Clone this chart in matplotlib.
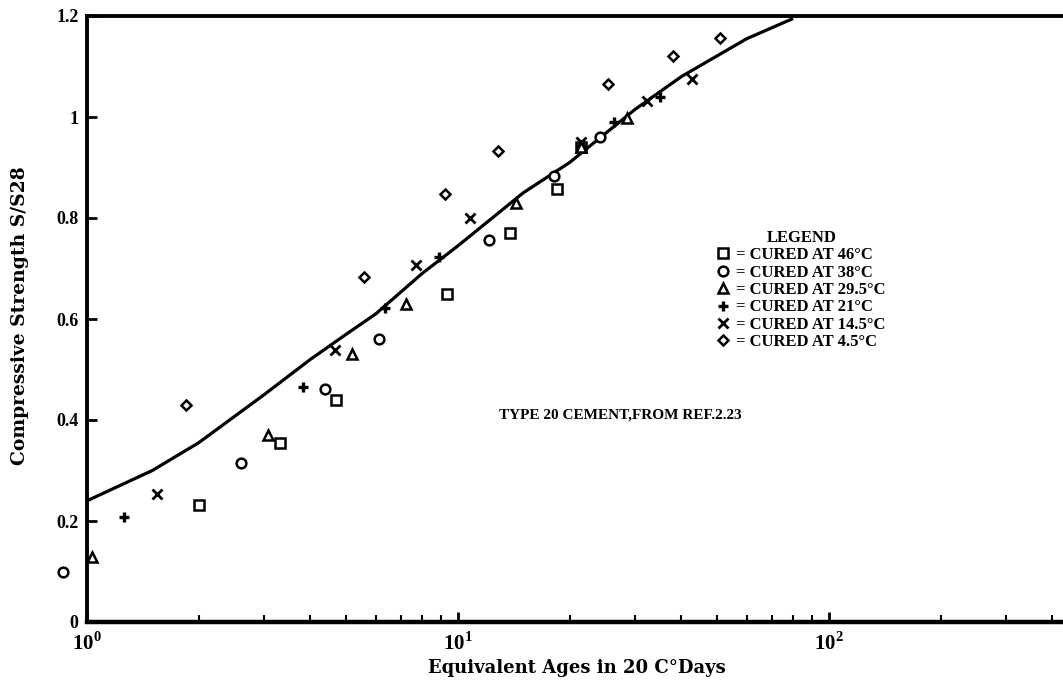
import math
import matplotlib
matplotlib.use("Agg")
import matplotlib.pyplot as plt
from matplotlib.ticker import LogLocator, FixedLocator, FuncFormatter, NullFormatter

plt.rcParams["font.family"] = ["Liberation Serif", "DejaVu Serif"]
plt.rcParams["mathtext.fontset"] = "custom"
plt.rcParams["mathtext.rm"] = "Liberation Serif:bold"
plt.rcParams["mathtext.bf"] = "Liberation Serif:bold"

# best-fit curve
curve_x = [1, 1.5, 2, 3, 4, 5, 6, 8, 10, 15, 20, 30, 40, 60, 80]
curve_y = [0.24, 0.30, 0.355, 0.45, 0.52, 0.57, 0.61, 0.69, 0.745, 0.85, 0.91, 1.015, 1.08, 1.155, 1.195]

# measured points per curing temperature
x_46 = [2.0, 3.31, 4.69, 9.34, 13.8, 18.5, 21.5]
y_46 = [0.232, 0.354, 0.44, 0.65, 0.77, 0.857, 0.94]
x_38 = [0.86, 2.6, 4.38, 6.13, 12.1, 18.1, 24.1]
y_38 = [0.099, 0.315, 0.461, 0.56, 0.756, 0.883, 0.96]
x_295 = [1.03, 3.07, 5.18, 7.24, 14.3, 21.5, 28.5]
y_295 = [0.129, 0.37, 0.53, 0.63, 0.83, 0.94, 0.998]
x_21 = [1.26, 3.82, 6.36, 8.89, 26.3, 35.0]
y_21 = [0.208, 0.465, 0.622, 0.723, 0.99, 1.04]
x_145 = [1.54, 4.66, 7.7, 10.8, 21.5, 32.3, 42.7]
y_145 = [0.253, 0.539, 0.707, 0.80, 0.95, 1.032, 1.075]
x_45 = [1.85, 5.58, 9.22, 12.8, 25.4, 38.0, 50.8]
y_45 = [0.43, 0.683, 0.848, 0.933, 1.065, 1.12, 1.156]

y_ticks = [0, 0.2, 0.4, 0.6, 0.8, 1, 1.2]
y_tick_labels = ["0", "0.2", "0.4", "0.6", "0.8", "1", "1.2"]

fig = plt.figure(figsize=(10.63, 6.86), dpi=100)
ax = fig.add_axes([87 / 1063, 1 - 622 / 686, 1 - 87 / 1063, (622 - 16) / 686])

ax.plot(curve_x, curve_y, color="black", lw=2.3, solid_capstyle="butt")

series = [
    (x_46, y_46, "s", 6.5, 1.8, "= CURED AT 46°C"),
    (x_38, y_38, "o", 7, 1.8, "= CURED AT 38°C"),
    (x_295, y_295, "^", 7, 1.8, "= CURED AT 29.5°C"),
    (x_21, y_21, "+", 7.5, 2.4, "= CURED AT 21°C"),
    (x_145, y_145, "x", 6.5, 2.0, "= CURED AT 14.5°C"),
    (x_45, y_45, "D", 5, 1.8, "= CURED AT 4.5°C"),
]
handles = []
for xs, ys, m, ms, mew, lab in series:
    h, = ax.plot(xs, ys, ls="none", marker=m, ms=ms, mew=mew, mfc="white",
                 mec="black", color="black", label=lab, clip_on=False, zorder=3)
    handles.append(h)

ax.set_xscale("log")
ax.set_xlim(1, 10 ** ((1063 - 87) / 371))
ax.set_ylim(0, 1.2)

ax.xaxis.set_major_locator(FixedLocator([1, 10, 100]))
ax.xaxis.set_major_formatter(FuncFormatter(lambda v, p: r"$10^{%d}$" % round(math.log10(v))))
ax.xaxis.set_minor_locator(LogLocator(base=10, subs=range(2, 10)))
ax.xaxis.set_minor_formatter(NullFormatter())
ax.set_yticks(y_ticks)
ax.set_yticklabels(y_tick_labels)

ax.tick_params(axis="both", which="major", direction="in", width=2, length=7, pad=6)
ax.tick_params(axis="y", which="major", labelsize=13)
ax.tick_params(axis="x", which="major", labelsize=15, pad=7)
ax.tick_params(axis="x", which="minor", direction="in", width=1.5, length=5)
for lab in ax.get_yticklabels() + ax.get_xticklabels():
    lab.set_fontweight("bold")

ax.spines["right"].set_visible(False)
for side, w in [("left", 2.8), ("bottom", 3.2), ("top", 2.8)]:
    ax.spines[side].set_linewidth(w)

ax.set_xlabel("Equivalent Ages in 20 C°Days", fontsize=13, fontweight="bold",
              family=["DejaVu Serif"])
ax.set_ylabel("Compressive Strength S/S28", fontsize=13.5, fontweight="bold",
              family=["DejaVu Serif"])
ax.xaxis.set_label_coords((577 - 87) / (1063 - 87), -(668 - 622) / 606)
ax.yaxis.set_label_coords(-(87 - 20) / (1063 - 87), (622 - 316) / 606)
ax.xaxis.label.set_va("center")
ax.yaxis.label.set_va("center")

ax.text(0.546, (622 - 415) / 606, "TYPE 20 CEMENT,FROM REF.2.23", transform=ax.transAxes,
        ha="center", va="center", fontsize=11, fontweight="bold")

leg = ax.legend(handles=handles, title="LEGEND", loc="upper left",
                bbox_to_anchor=(718 / 1063, 1 - 230 / 686), bbox_transform=fig.transFigure,
                frameon=False, handlelength=0.6, handletextpad=0.5, labelspacing=0.08,
                borderpad=0, borderaxespad=0, prop={"weight": "bold", "size": 12},
                title_fontproperties={"weight": "bold", "size": 12})

fig.savefig("out.png", dpi=100)
